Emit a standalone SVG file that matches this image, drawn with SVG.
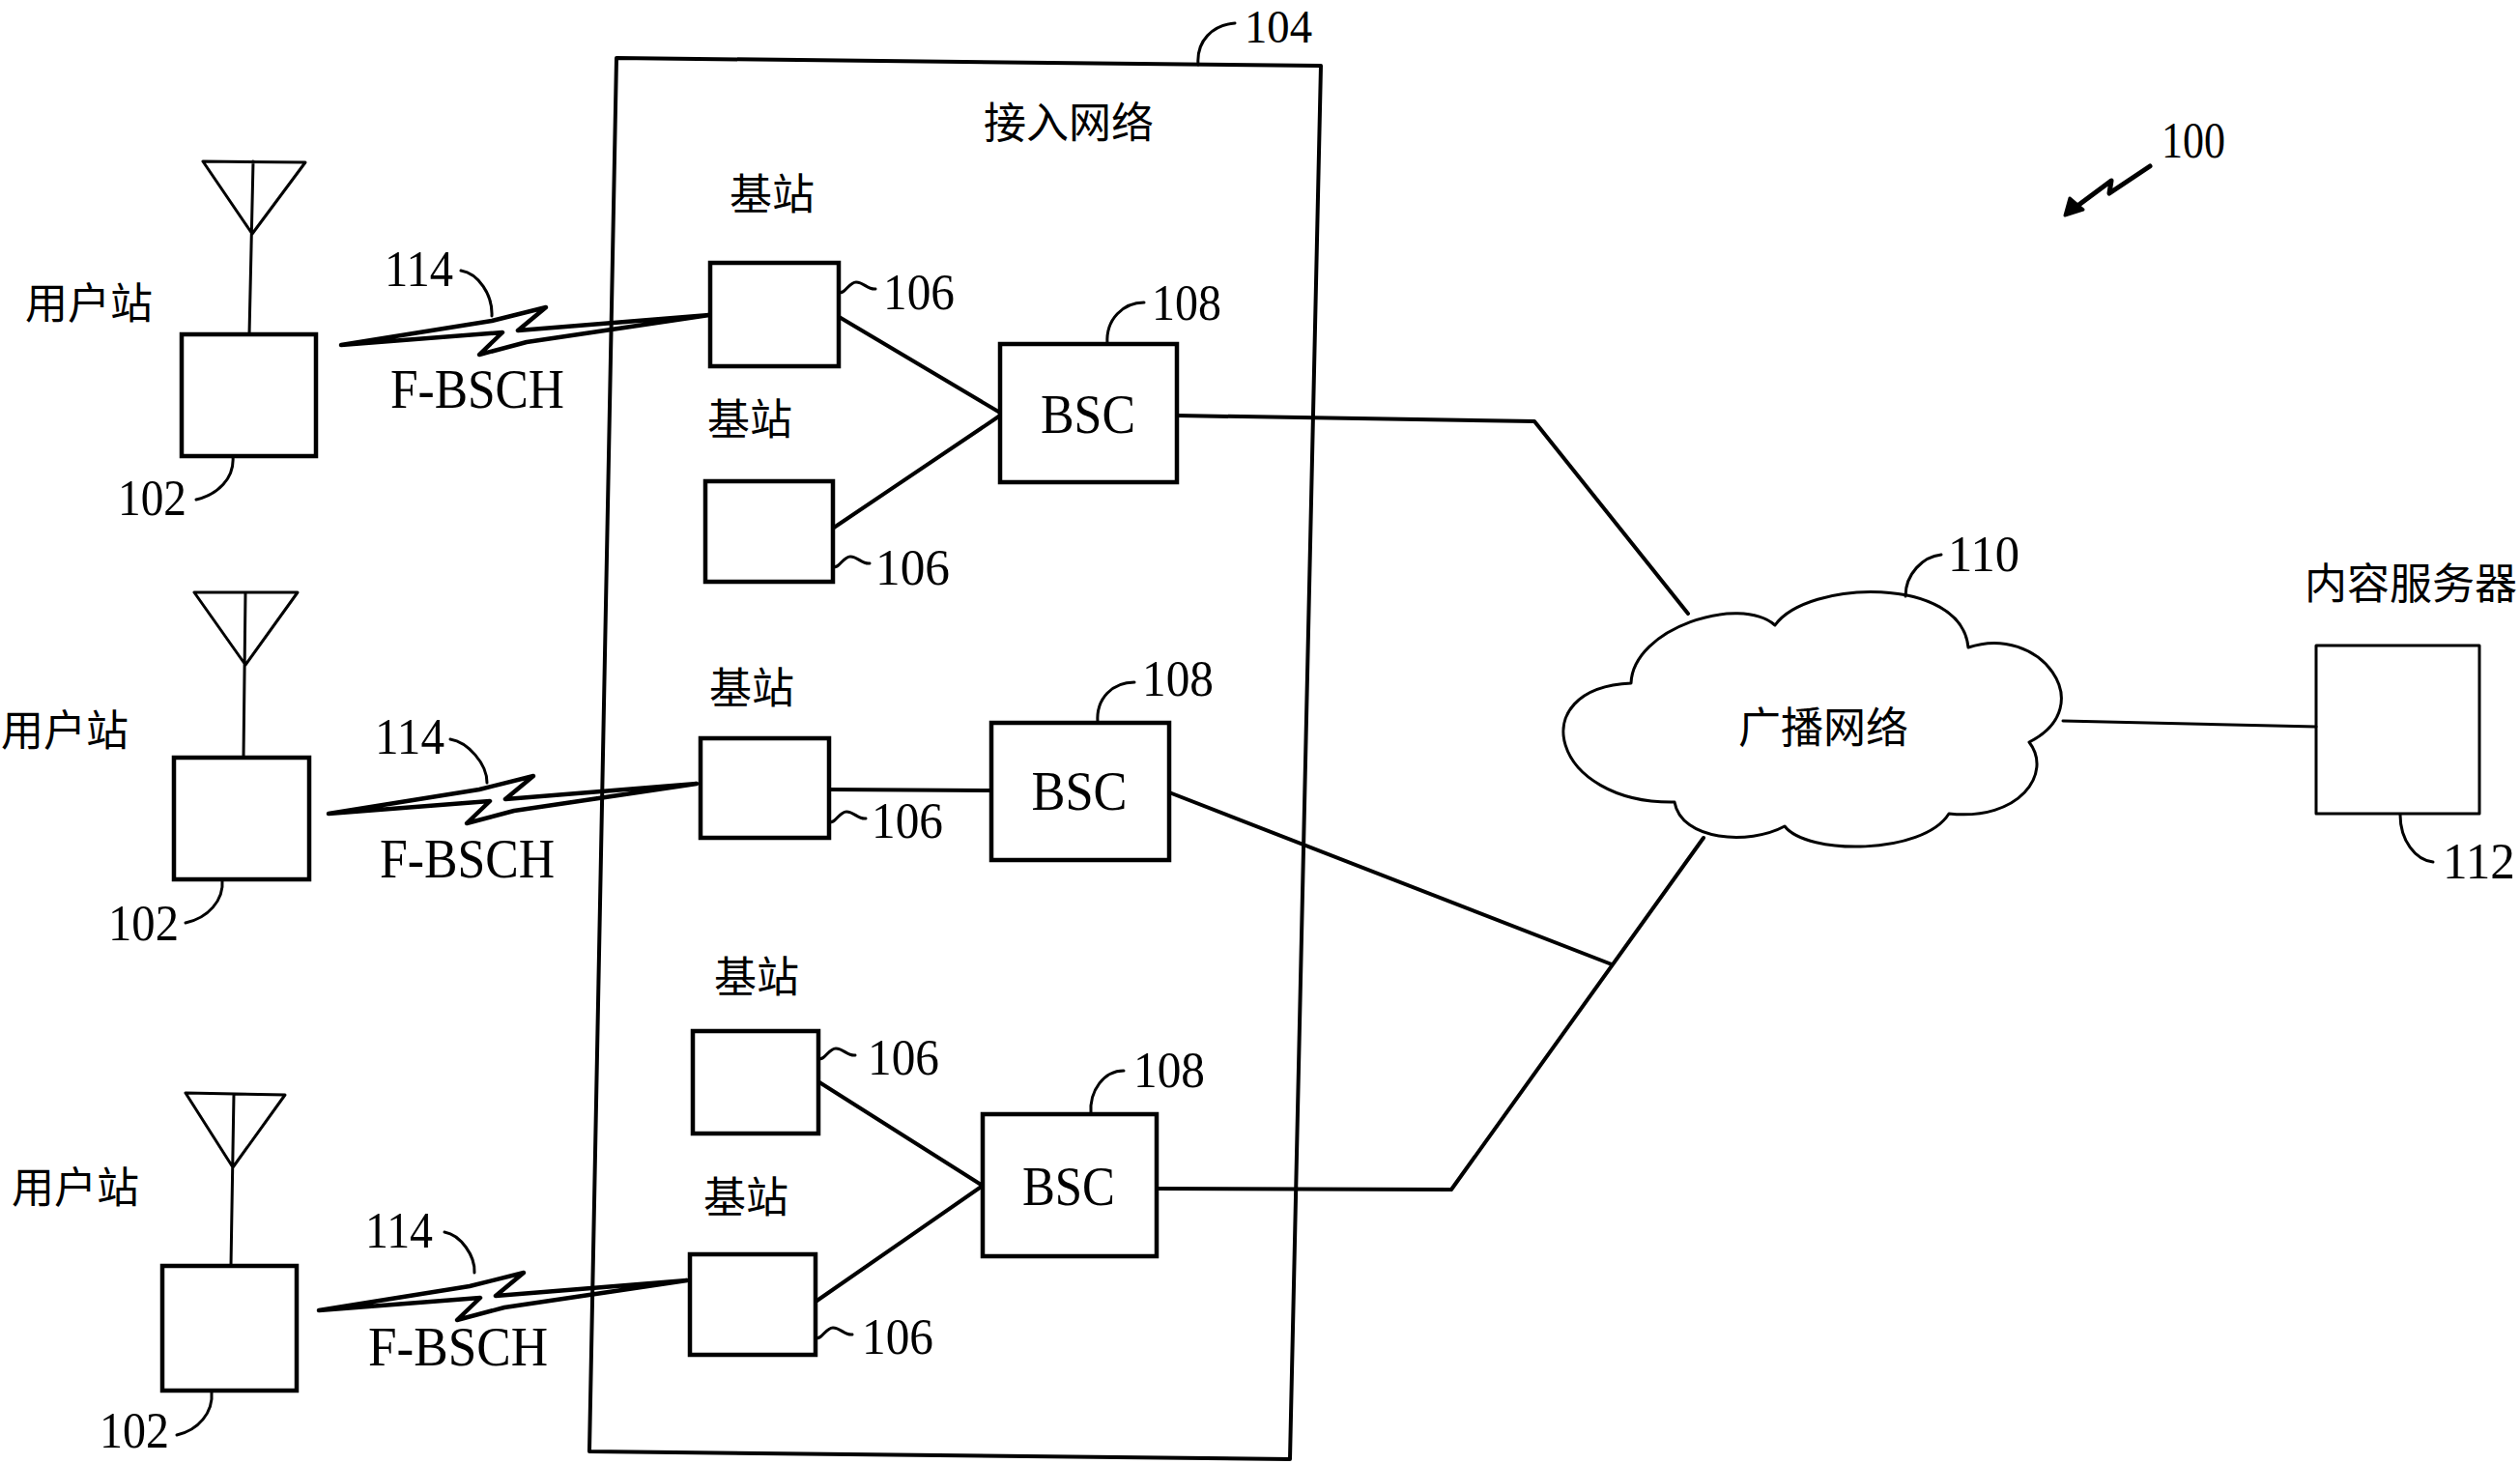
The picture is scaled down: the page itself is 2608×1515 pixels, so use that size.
<svg xmlns="http://www.w3.org/2000/svg" xmlns:xlink="http://www.w3.org/1999/xlink" width="2608" height="1515" viewBox="0 0 2608 1515">
<style>
.ln{stroke:#000;stroke-width:4;fill:none;stroke-linecap:round;stroke-linejoin:round}
.th{stroke:#000;stroke-width:3;fill:none;stroke-linecap:round;stroke-linejoin:round}
.bt{stroke:#000;stroke-width:4.5;fill:none;stroke-linecap:round;stroke-linejoin:round}
.box{fill:#fff;stroke:#000;stroke-width:4.5}
.num{font-family:"Liberation Serif",serif;font-size:52px;fill:#000}
.lat{font-family:"Liberation Serif",serif;font-size:58px;fill:#000}
.cjk{font-family:"Noto Sans CJK SC","Noto Sans",sans-serif;font-size:44px;fill:#000}
</style>
<defs>
<path id="bolt" d="M0,0 L156,-25 L212,-39 L183,-15 L381,-31 L192,-3 L143,10 L167,-13 Z" class="bt"/>
<path id="tilde" d="M0,0 C6,4 10,-10 18,-10 C26,-10 30,-2 38,-3" class="th"/>
</defs>
<rect width="2608" height="1515" fill="#fff"/>

<g id="access-network">
<path class="ln" d="M638,60 L1367,68 L1335,1510 L610,1502 Z"/>
<text class="cjk" x="1106" y="143" text-anchor="middle">接入网络</text>
<path class="th" d="M1240,67 C1238,42 1255,26 1278,24"/>
<text class="num" x="1288" y="44" style="font-size:48px" textLength="70" lengthAdjust="spacingAndGlyphs">104</text>
</g>

<g id="connectors">
<path class="ln" d="M865,326 L1035,427"/>
<path class="ln" d="M860,548 L1035,430"/>
<path class="ln" d="M1218,430 L1588,436 L1747,635"/>
<path class="ln" d="M858,817 L1026,818"/>
<path class="ln" d="M1210,820 L1668,998"/>
<path class="ln" d="M848,1120 L1017,1227"/>
<path class="ln" d="M844,1347 L1017,1227"/>
<path class="ln" d="M1197,1230 L1502,1231 L1763,867"/>
<path class="th" d="M2135,746 L2397,752"/>
<use xlink:href="#bolt" transform="translate(353,357)"/>
<use xlink:href="#bolt" transform="translate(340,842)"/>
<use xlink:href="#bolt" transform="translate(330,1356)"/>
</g>

<g id="ms1">
<path class="th" d="M210,167 L316,168 L261,242 Z M262,167 L258,346"/>
<rect class="box" x="188" y="346" width="139" height="126"/>
<text class="cjk" x="92" y="330" text-anchor="middle">用户站</text>
<path class="th" d="M241,472 C243,495 225,512 203,517"/>
<text class="num" x="122" y="533" textLength="71" lengthAdjust="spacingAndGlyphs">102</text>
<path class="th" d="M477,280 C495,283 510,305 509,327"/>
<text class="num" x="398" y="296" textLength="71" lengthAdjust="spacingAndGlyphs">114</text>
<text class="lat" x="404" y="422" textLength="180" lengthAdjust="spacingAndGlyphs">F-BSCH</text>
</g>

<g id="ms2">
<path class="th" d="M201,613 L308,613 L254,688 Z M254,613 L252,784"/>
<rect class="box" x="180" y="784" width="140" height="126"/>
<text class="cjk" x="67" y="772" text-anchor="middle">用户站</text>
<path class="th" d="M230,910 C232,932 215,950 192,955"/>
<text class="num" x="112" y="973" textLength="73" lengthAdjust="spacingAndGlyphs">102</text>
<path class="th" d="M466,765 C484,768 504,790 504,810"/>
<text class="num" x="388" y="780" textLength="72" lengthAdjust="spacingAndGlyphs">114</text>
<text class="lat" x="393" y="908" textLength="181" lengthAdjust="spacingAndGlyphs">F-BSCH</text>
</g>

<g id="ms3">
<path class="th" d="M192,1131 L295,1133 L241,1208 Z M242,1132 L239,1310"/>
<rect class="box" x="168" y="1310" width="139" height="129"/>
<text class="cjk" x="78" y="1245" text-anchor="middle">用户站</text>
<path class="th" d="M219,1440 C221,1462 205,1480 183,1485"/>
<text class="num" x="103" y="1498" textLength="72" lengthAdjust="spacingAndGlyphs">102</text>
<path class="th" d="M460,1275 C477,1278 492,1300 491,1317"/>
<text class="num" x="378" y="1291" textLength="70" lengthAdjust="spacingAndGlyphs">114</text>
<text class="lat" x="381" y="1413" textLength="186" lengthAdjust="spacingAndGlyphs">F-BSCH</text>
</g>

<g id="bs1a">
<text class="cjk" x="799" y="217" text-anchor="middle">基站</text>
<rect class="box" x="735" y="272" width="133" height="107"/>
<use xlink:href="#tilde" transform="translate(868,302)"/>
<text class="num" x="914" y="320" textLength="74" lengthAdjust="spacingAndGlyphs">106</text>
</g>
<g id="bs1b">
<text class="cjk" x="776" y="450" text-anchor="middle">基站</text>
<rect class="box" x="730" y="498" width="132" height="104"/>
<use xlink:href="#tilde" transform="translate(862,586)"/>
<text class="num" x="906" y="605" textLength="77" lengthAdjust="spacingAndGlyphs">106</text>
</g>
<g id="bsc1">
<rect class="box" x="1035" y="356" width="183" height="143"/>
<text class="lat" x="1126" y="448" text-anchor="middle" textLength="98" lengthAdjust="spacingAndGlyphs">BSC</text>
<path class="th" d="M1146,356 C1144,330 1163,313 1184,313"/>
<text class="num" x="1192" y="331" textLength="72" lengthAdjust="spacingAndGlyphs">108</text>
</g>

<g id="bs2">
<text class="cjk" x="778" y="728" text-anchor="middle">基站</text>
<rect class="box" x="725" y="764" width="133" height="103"/>
<use xlink:href="#tilde" transform="translate(858,850)"/>
<text class="num" x="902" y="867" textLength="74" lengthAdjust="spacingAndGlyphs">106</text>
</g>
<g id="bsc2">
<rect class="box" x="1026" y="748" width="184" height="142"/>
<text class="lat" x="1117" y="838" text-anchor="middle" textLength="99" lengthAdjust="spacingAndGlyphs">BSC</text>
<path class="th" d="M1136,748 C1134,722 1152,706 1174,706"/>
<text class="num" x="1182" y="720" textLength="74" lengthAdjust="spacingAndGlyphs">108</text>
</g>

<g id="bs3a">
<text class="cjk" x="783" y="1027" text-anchor="middle">基站</text>
<rect class="box" x="717" y="1067" width="130" height="106"/>
<use xlink:href="#tilde" transform="translate(847,1095)"/>
<text class="num" x="898" y="1112" textLength="74" lengthAdjust="spacingAndGlyphs">106</text>
</g>
<g id="bs3b">
<text class="cjk" x="772" y="1255" text-anchor="middle">基站</text>
<rect class="box" x="714" y="1298" width="130" height="104"/>
<use xlink:href="#tilde" transform="translate(844,1384)"/>
<text class="num" x="892" y="1401" textLength="74" lengthAdjust="spacingAndGlyphs">106</text>
</g>
<g id="bsc3">
<rect class="box" x="1017" y="1153" width="180" height="147"/>
<text class="lat" x="1106" y="1247" text-anchor="middle" textLength="96" lengthAdjust="spacingAndGlyphs">BSC</text>
<path class="th" d="M1129,1153 C1127,1128 1143,1108 1163,1108"/>
<text class="num" x="1173" y="1125" textLength="74" lengthAdjust="spacingAndGlyphs">108</text>
</g>

<g id="broadcast-network">
<path class="th" fill="#fff" d="M1688,707 C1690,650 1800,615 1837,647 C1870,600 2030,595 2037,670 C2110,645 2175,730 2100,768 C2125,800 2090,850 2017,842 C1990,885 1870,885 1847,855 C1810,875 1740,870 1733,830 C1605,832 1575,712 1688,707 Z"/>
<text class="cjk" x="1887" y="769" text-anchor="middle">广播网络</text>
<path class="th" d="M1972,617 C1972,594 1990,576 2009,574"/>
<text class="num" x="2016" y="591" textLength="74" lengthAdjust="spacingAndGlyphs">110</text>
</g>

<g id="content-server">
<text class="cjk" x="2495" y="620" text-anchor="middle">内容服务器</text>
<rect class="th" x="2397" y="668" width="169" height="174"/>
<path class="th" d="M2484,843 C2484,870 2500,890 2518,892"/>
<text class="num" x="2528" y="909" textLength="75" lengthAdjust="spacingAndGlyphs">112</text>
</g>

<g id="system-100">
<text class="num" x="2237" y="163" textLength="66" lengthAdjust="spacingAndGlyphs">100</text>
<path class="ln" d="M2225,172 L2183,200 L2185,187 L2146,216" style="stroke-width:5"/>
<path d="M2137,223 L2142,205 L2156,217 Z" fill="#000" stroke="#000" stroke-width="3" stroke-linejoin="round"/>
</g>
</svg>
